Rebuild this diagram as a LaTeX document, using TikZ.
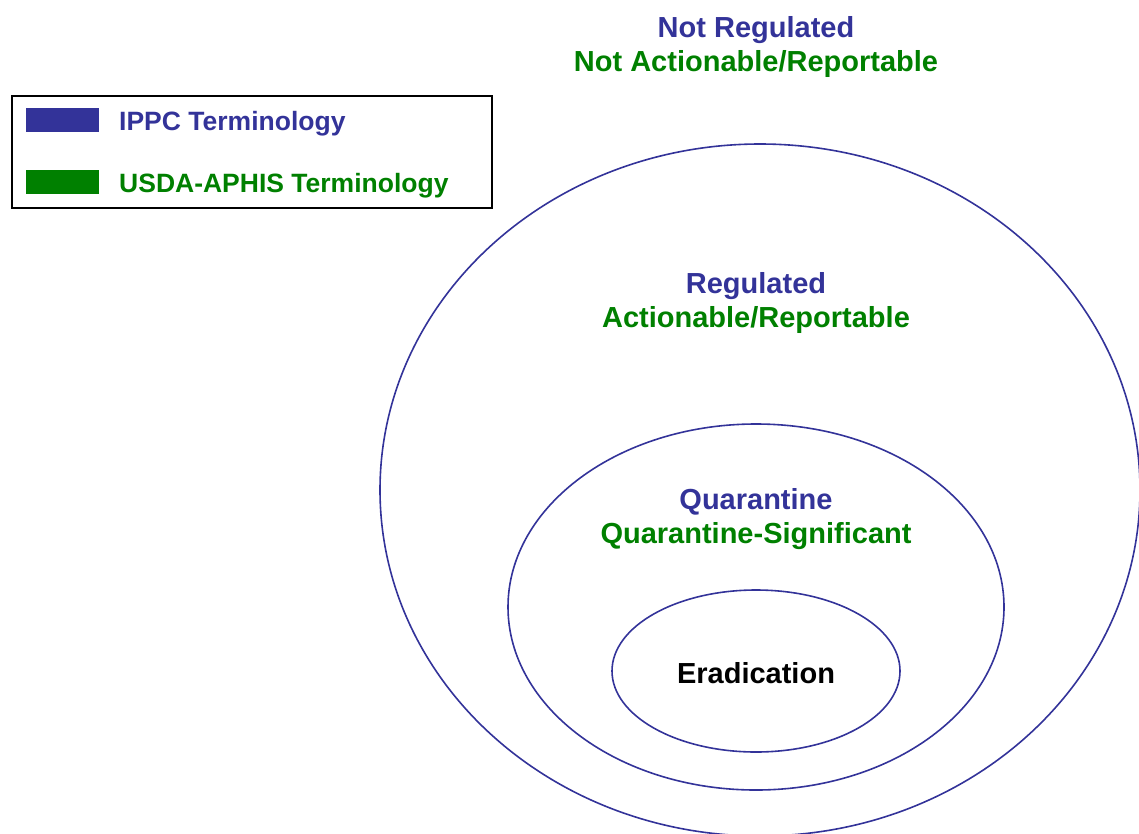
\documentclass[tikz,border=0pt]{standalone}
\usepackage{fontspec}
\setmainfont{Liberation Sans}
\usetikzlibrary{shapes.geometric}
\definecolor{ippc}{HTML}{333399}
\definecolor{usda}{HTML}{008000}
\tikzset{
  ring/.style={draw=ippc, line width=1.6pt, ellipse, inner sep=0pt},
  lbl/.style={font=\fontsize{29}{34}\selectfont\bfseries, align=center, inner sep=0pt},
  legtxt/.style={font=\fontsize{26.5}{30}\selectfont\bfseries, anchor=west, inner sep=0pt},
  swatch/.style={minimum width=73pt, minimum height=24pt, inner sep=0pt, draw=none}
}
\begin{document}
\begin{tikzpicture}[x=1pt,y=-1pt]
\useasboundingbox (0,0) rectangle (1139,833);
\clip (0,0) rectangle (1139,833);
% ellipses
\node[ring, minimum width=760pt, minimum height=692pt] (outer) at (760,490) {};
\node[ring, minimum width=496pt, minimum height=366pt] (middle) at (756,607) {};
\node[ring, minimum width=288pt, minimum height=162pt] (inner) at (756,671) {};
% labels
\node[lbl] (nr) at (756,47) {\textcolor{ippc}{Not Regulated}\\\textcolor{usda}{Not Actionable/Reportable}};
\node[lbl] (rg) at (756,303) {\textcolor{ippc}{Regulated}\\\textcolor{usda}{Actionable/Reportable}};
\node[lbl] (qu) at (756,519) {\textcolor{ippc}{Quarantine}\\\textcolor{usda}{Quarantine-Significant}};
\node[lbl, yshift=-2pt] (er) at (inner.center) {Eradication};
% legend
\node[draw=black, line width=2pt, minimum width=480pt, minimum height=112pt, inner sep=0pt] (legend) at (252,152) {};
\node[swatch, fill=ippc] (sw1) at (62.5,120) {};
\node[swatch, fill=usda] (sw2) at (62.5,182) {};
\node[legtxt, text=ippc] (t1) at (119,124) {IPPC Terminology};
\node[legtxt, text=usda] (t2) at (119,186) {USDA-APHIS Terminology};
\end{tikzpicture}
\end{document}
